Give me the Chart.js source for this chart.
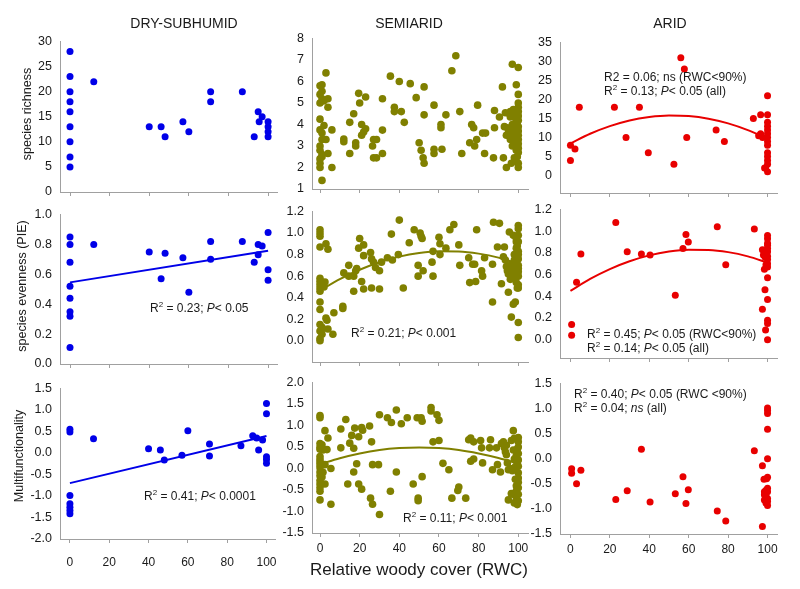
<!DOCTYPE html>
<html>
<head>
<meta charset="utf-8">
<script src="https://cdn.jsdelivr.net/npm/chart.js@4.4.1/dist/chart.umd.min.js"></script>
<style>
  body { margin: 0; background: #fff; }
  #wrap { position: relative; width: 800px; height: 589px; overflow: hidden; font-family: "Liberation Sans", Arial, sans-serif; color: #1a1a1a; }
  #wrap canvas { position: absolute; }
  .note { position: absolute; white-space: nowrap; font-size: 12px; line-height: 14px; }
  .ttl { position: absolute; font-size: 14px; line-height: 16px; transform: translate(-50%, -50%); white-space: nowrap; }
  .ylab { position: absolute; font-size: 12.5px; line-height: 14px; transform: translate(-50%, -50%) rotate(-90deg); white-space: nowrap; }
  .xlab { position: absolute; font-size: 17px; line-height: 20px; transform: translate(-50%, -50%); white-space: nowrap; }
  sup { font-size: 8px; vertical-align: 5px; line-height: 0; }
</style>
</head>
<body>
<div id="wrap"></div>
<script>
// tick labels
const xTicks = [0, 20, 40, 60, 80, 100];
const dryRichTicks = [0, 5, 10, 15, 20, 25, 30];
const semiRichTicks = [1, 2, 3, 4, 5, 6, 7, 8];
const aridRichTicks = [0, 5, 10, 15, 20, 25, 30, 35];
const evenTicksDry = [0, 0.2, 0.4, 0.6, 0.8, 1.0];
const evenTicks = [0, 0.2, 0.4, 0.6, 0.8, 1.0, 1.2];
const dryMultiTicks = [-2, -1.5, -1, -0.5, 0, 0.5, 1, 1.5];
const semiMultiTicks = [-1.5, -1, -0.5, 0, 0.5, 1, 1.5, 2];
const aridMultiTicks = [-1.5, -1, -0.5, 0, 0.5, 1, 1.5];

// points [RWC, value]
const dryRichness = [[0,28],[0,23],[0,20],[0,18],[0,16],[0,13],[0,10],[0,7],[0,5],[12,22],[40,13],[46,13],[48,11],[57,14],[60,12],[71,20],[71,18],[87,20],[95,16],[97,15],[95.5,14],[93,11],[100,14],[100,13],[100,12],[100,11]];
const dryEvenness = [[0,0.85],[0,0.80],[0,0.68],[0,0.52],[0,0.44],[0,0.35],[0,0.32],[0,0.11],[12,0.80],[40,0.75],[46,0.57],[48,0.74],[57,0.71],[60,0.48],[71,0.82],[71,0.70],[87,0.82],[93,0.68],[95,0.73],[95,0.80],[97,0.79],[100,0.88],[100,0.63],[100,0.56]];
const dryMulti = [[0,0.55],[0,0.49],[0,-0.99],[0,-1.18],[0,-1.26],[0,-1.34],[0,-1.41],[12,0.33],[40,0.10],[46,0.07],[48,-0.16],[57,-0.05],[60,0.52],[71,0.21],[71,-0.07],[87,0.17],[93,0.40],[95,0.35],[96,0.07],[98,0.30],[100,1.15],[100,0.91],[100,-0.09],[100,-0.15],[100,-0.24]];

const semiRichness = [[1,1.4],[0,2.0],[0,2.2],[0,2.4],[1,2.6],[0,3.0],[1,3.3],[1,3.6],[0,3.75],[0,4.25],[0,5.0],[1,5.2],[0,5.4],[1,5.55],[0,5.8],[1,5.85],[2,3.95],[2,5.1],[1,2.5],[0,2.8],
  [3,6.4],[4,5.2],[4,4.8],[3,3.3],[4,2.65],[6,2.0],[6,3.75],
  [12,3.32],[12,3.2],[15,4.1],[15,2.65],[17,4.5],[18,3.15],[18,3.0],[19.5,5.45],[20,5.0],[21,4.0],[21,3.5],[22,3.65],[23,3.8],[23,5.28],
  [26.5,3.0],[27,3.3],[28.5,3.3],[27,2.45],[28.5,2.45],[31.5,3.74],[31.5,5.2],[31.5,2.65],
  [35.5,6.25],[37.5,4.8],[37.5,4.6],[40,6.0],[41,4.6],[42.5,4.1],[45.5,5.9],[48.5,5.25],[50,3.15],[51,2.8],[52,2.45],[52.5,2.2],[52.5,5.75],[52.5,4.45],
  [57.5,4.9],[57.5,2.85],[57.5,2.65],[61,4.0],[61,3.85],[61.5,2.85],[63.5,4.45],[66.5,6.5],[68.5,7.2],[70.5,4.6],[71.5,2.65],
  [75.5,3.15],[76.5,4.0],[77.5,3.85],[78,3.0],[79,3.3],[79.5,4.9],[82,3.6],[83.5,3.6],[83,2.65],
  [87.5,2.45],[88,3.85],[88,4.65],[90.5,4.35],[92,5.75],[92.5,2.45],[93.5,4.55],[94,2.0],[94.5,3.85],[95,3.6],[96,4.35],[96.5,2.2],[97,6.8],[97.5,4.7],[98,2.45],[99,5.85],[99.5,3.2],[100,2.2],[100,6.65],[100,2.0],
  [95,3.5],[96,3.3],[96.5,3.7],[97,4.0],[97.5,3.4],[98,3.9],[98.5,4.3],[99,4.5],[99,3.6],[99.5,4.1],[100,4.6],[100,4.4],[100,4.2],[100,3.9],[100,3.7],[100,3.5],[100,3.3],[100,3.1],[100,2.9],[100,2.7],[100,5.4],[100,5.0],[100,4.8],[98,3.2],[97,3.0],[99,2.8],[96,4.6],[98.5,2.3],[99.5,2.5],[95.5,4.5],[93,3.9],[94,3.5]];
const semiEvenness = [[0,1.03],[0,1.0],[0,0.97],[0,0.87],[0,0.58],[0,0.55],[1,0.52],[0,0.49],[0,0.46],[0,0.36],[0,0.29],[0,0.15],[1,0.125],[0,0.09],[1,0.06],[0,0.02],[0,0.0],[2.5,0.545],[3,0.90],[3.5,0.19],[4,0.85],[4,0.11],[6.5,0.06],[7,0.26],[3,0.21],[1,0.11],[2,0.5],[0,0.52],
  [11.5,0.30],[11.5,0.32],[12,0.63],[14.5,0.70],[14.5,0.60],[17,0.46],[17,0.6],[18,0.65],[18.5,0.67],[19.5,0.86],[20,0.95],[22,0.89],[21,0.55],[22,0.79],[22,0.48],
  [25.5,0.82],[26,0.76],[27,0.73],[28,0.68],[26,0.49],[30,0.48],[30,0.65],[31,0.73],[34,0.77],[36.5,0.75],[36,0.99],[39.5,0.80],[40,1.12],[42,0.49],[45,0.91],[47.5,1.03],[49.5,0.70],[50.5,1.0],[51,0.97],[51.5,0.95],[49.5,0.60],[52,0.65],
  [56.5,0.73],[57,0.83],[57,0.60],[60,0.96],[60.5,0.90],[60.5,0.80],[63.5,0.86],[65.5,1.03],[67.5,1.08],[70,0.89],[70.5,0.70],[75,0.77],[75.5,0.54],[77,0.71],[78,0.71],[78.5,0.55],[79,1.03],[81.5,0.65],[82,0.60],[83,0.77],
  [87,0.71],[87,0.36],[87.5,1.10],[89.5,0.87],[90.5,1.09],[91.5,0.53],[92.5,0.78],[93,0.87],[93.5,0.75],[94,0.69],[94.5,0.65],[95,0.62],[95,0.45],[95.5,1.01],[96,0.57],[96.5,0.22],[96.5,0.71],[97.5,0.34],[97.5,0.98],[98,0.80],[98.5,0.57],[98.5,0.36],[99,0.86],[99,0.54],[99.5,0.49],
  [100,0.17],[100,0.03],[100,1.07],[100,1.04],[100,0.98],[100,0.92],[100,0.83],[100,0.76],[100,0.70],[100,0.64],[100,0.60],[100,0.52],[100,0.49],[99,0.70],[99,0.64],[99.5,0.62],[98.5,0.63],[97.5,0.66],[98,0.68],[99,0.74],[99.5,0.88],[99,0.92],[99,0.95],[96,0.62],[97,0.60],[98,0.75],[100,0.80],[100,0.67]];
const semiMulti = [[0,1.23],[0,1.18],[0,0.58],[0,0.50],[0,0.45],[0,0.28],[0,0.21],[0,0.09],[0,0.02],[0,-0.08],[0,-0.17],[0,-0.28],[0,-0.36],[0,-0.45],[0,-0.53],[0,-0.73],[1.5,0.43],[1.5,-0.09],[2.5,0.09],[2.5,-0.36],[2.5,0.88],[3.5,0.44],[4,0.71],[5.5,0.0],[5.5,-0.83],[0,0.15],[1,-0.2],[1,0.55],
  [10.5,0.48],[10.5,0.92],[13,1.14],[14,-0.36],[15,0.59],[16,0.77],[17,0.47],[17,-0.08],[17.5,0.94],[18.5,0.11],[19.5,0.74],[19.5,-0.36],[21,0.95],[21,-0.48],[21.5,0.89],[25,0.99],[25.5,-0.69],[26,0.62],[26.5,0.09],[26.5,-0.83],[29.5,0.09],[30,-1.07],[30,1.25],
  [34,1.18],[35.5,-0.53],[36,1.07],[38.5,-0.08],[38.5,1.36],[41,1.04],[44,1.18],[47,-0.36],[49,1.18],[49.5,-0.69],[49.5,-0.75],[51,1.18],[51.5,1.10],[51.5,-0.19],[56,1.42],[56,1.34],[57,0.62],[59,1.25],[60,1.12],[60,0.65],[62,0.12],[65,-0.03],[66.5,-0.69],[69.5,-0.51],[70,-0.43],[73.5,-0.69],
  [75,0.67],[76,0.71],[76,0.17],[77.5,0.62],[77.5,0.22],[81,0.65],[81.5,0.48],[82,0.13],[85.5,0.48],[86,0.67],[87,-0.03],[89,0.48],[89.5,0.09],[91,-0.08],[91.5,0.58],[92.5,0.62],[93,0.48],[93.5,0.39],[94,0.54],[94,0.32],[94.5,0.13],[95,-0.03],[95,-0.73],[96,0.00],[96.5,0.65],[96.5,-0.58],[97.5,0.88],[97.5,0.43],[98,0.22],[98.5,0.04],[98.5,-0.25],[99,-0.40],[99,-0.52],[99.5,-0.84],
  [100,0.62],[100,0.50],[100,0.35],[100,0.20],[100,0.05],[100,-0.10],[100,-0.22],[100,-0.32],[100,-0.60],[100,-0.75],[100,0.72],[99,0.30],[98,0.70],[99.5,0.12],[97,-0.05],[100,-0.45],[99,-0.68],[98,-0.80],[97,-0.60],[99.5,0.45]];

const aridRichness = [[0,8],[0,4],[2.3,7],[4.5,18],[22.3,18],[28.2,10],[35,18],[39.5,6],[52.5,3],[56,31],[57.8,28],[59,10],[73.9,12],[78.1,9],[92.8,15],[96.5,16],[96.5,11],[97.5,10],[95.5,10.5],[100,21],[100,16],[100,14],[100,13],[100,12],[100,11],[100,10],[100,9],[100,8],[100,6],[100,5],[100,4],[100,3],[99,2],[100,1],[98.5,2]];
const aridEvenness = [[0.6,0.14],[0.6,0.04],[3.1,0.53],[5.3,0.79],[23,1.08],[28.8,0.81],[36,0.79],[40.4,0.78],[53.2,0.41],[57.1,0.84],[58.6,0.97],[59.8,0.90],[74.5,1.04],[78.8,0.69],[93.3,1.02],[97.4,0.83],[97.9,0.78],[98.4,0.65],[99,0.09],[97.4,0.28],[98.7,0.46],[100,0.57],[100,0.37],[100,0.18],[100,0.15],[100,0.0],[100,0.96],[100,0.93],[100,0.89],[100,0.87],[100,0.84],[100,0.81],[100,0.77],[100,0.74],[100,0.70],[100,0.67],[99.2,0.69],[98.8,0.76]];
const aridMulti = [[0.6,-0.20],[0.6,-0.29],[3.1,-0.50],[5.3,-0.23],[23,-0.81],[28.8,-0.64],[36,0.19],[40.4,-0.86],[53.2,-0.70],[57.1,-0.36],[59.8,-0.62],[58.6,-0.89],[74.5,-1.04],[78.8,-1.24],[93.3,0.16],[97.4,-0.14],[97.4,-1.35],[98.2,-0.41],[100,1.01],[100,0.96],[100,0.90],[100,0.59],[100,0.0],[100,-0.37],[99.5,-0.40],[100,-0.59],[100,-0.66],[98.4,-0.66],[99.2,-0.75],[100,-0.79],[100,-0.85],[100,-0.93],[98.4,-0.82],[99.2,-0.88],[99.2,-0.63],[98.4,-0.72]];

// fitted curves
const dryEvenFit = [[0,0.546],[100,0.757]];
const dryMultiFit = [[0,-0.70],[100,0.395]];
const semiEvenFit = [[0,0.466],[10,0.572],[20,0.659],[30,0.729],[40,0.781],[50,0.815],[60,0.831],[70,0.829],[80,0.809],[90,0.772],[100,0.716]];
const semiMultiFit = [[0,0.10],[10,0.24],[20,0.35],[30,0.43],[40,0.475],[50,0.49],[60,0.475],[70,0.43],[80,0.35],[90,0.245],[100,0.11]];
const aridRichFit = [[0,8.45],[10,11.0],[20,13.0],[30,14.5],[40,15.4],[50,15.8],[60,15.65],[70,14.96],[80,13.73],[90,11.96],[98,10.16]];
const aridEvenFit = [[0,0.45],[10,0.56],[20,0.651],[30,0.723],[40,0.777],[50,0.812],[60,0.829],[70,0.827],[80,0.807],[90,0.768],[100,0.71]];

const BLUE = '#0000e8', OLIVE = '#808000', RED = '#e80000';
const AXIS = '#a0a0a0', TXT = '#1a1a1a', FONT = '"Liberation Sans", Arial, sans-serif';
const PAD = { l: 48, t: 10, r: 12, b: 34 };

const panels = [
  { pts: dryRichness, color: BLUE, area: [60, 36, 277, 192], x: [-5.05, 104.5], y: [0, 30], yTicks: dryRichTicks, dec: 0 },
  { pts: semiRichness, color: OLIVE, r: 3.8, area: [312, 33, 528, 189], x: [-4.04, 104.9], y: [1, 8], yTicks: semiRichTicks, dec: 0 },
  { pts: aridRichness, color: RED, fit: aridRichFit, area: [560, 37, 777, 193], x: [-5.3, 104.8], y: [-4.57, 35], yTicks: aridRichTicks, dec: 0 },
  { pts: dryEvenness, color: BLUE, fit: dryEvenFit, area: [60, 209, 277, 364], x: [-5.05, 104.5], y: [0, 1], yTicks: evenTicksDry, dec: 1 },
  { pts: semiEvenness, color: OLIVE, r: 3.8, fit: semiEvenFit, area: [312, 206, 528, 362], x: [-4.04, 104.9], y: [-0.197, 1.2], yTicks: evenTicks, dec: 1 },
  { pts: aridEvenness, color: RED, fit: aridEvenFit, area: [560, 204, 777, 358], x: [-5.3, 104.8], y: [-0.169, 1.2], yTicks: evenTicks, dec: 1 },
  { pts: dryMulti, color: BLUE, fit: dryMultiFit, area: [60, 383, 277, 539], x: [-5.05, 104.5], y: [-2, 1.5], yTicks: dryMultiTicks, dec: 1, xLabels: true, xPad: 12 },
  { pts: semiMulti, color: OLIVE, r: 3.8, fit: semiMultiFit, area: [312, 377, 528, 533], x: [-4.04, 104.9], y: [-1.5, 2], yTicks: semiMultiTicks, dec: 1, xLabels: true, xPad: 4 },
  { pts: aridMulti, color: RED, area: [560, 378, 777, 534], x: [-5.3, 104.8], y: [-1.5, 1.5], yTicks: aridMultiTicks, dec: 1, xLabels: true, xPad: 4 },
];

const wrap = document.getElementById('wrap');

function drawPanel(p) {
  const [l, t, r, b] = p.area;
  const W = r - l + PAD.l + PAD.r, H = b - t + PAD.t + PAD.b;
  const c = document.createElement('canvas');
  c.width = W; c.height = H;
  Object.assign(c.style, { left: (l - PAD.l) + 'px', top: (t - PAD.t) + 'px', width: W + 'px', height: H + 'px' });
  wrap.appendChild(c);

  const datasets = [];
  if (p.fit) datasets.push({
    type: 'line', data: p.fit.map(([x, y]) => ({ x, y })), borderColor: p.color, borderWidth: 2,
    pointRadius: 0, fill: false, cubicInterpolationMode: 'monotone', clip: false,
  });
  datasets.push({
    data: p.pts.map(([x, y]) => ({ x, y })), backgroundColor: p.color, borderWidth: 0,
    pointRadius: p.r || 3.5, clip: false,
  });

  new Chart(c, {
    type: 'scatter',
    data: { datasets },
    options: {
      responsive: false, animation: false, events: [],
      layout: { padding: { left: 0, top: PAD.t, right: PAD.r, bottom: 0 } },
      plugins: { legend: { display: false }, tooltip: { enabled: false } },
      scales: {
        x: {
          type: 'linear', min: p.x[0], max: p.x[1],
          afterBuildTicks: s => { s.ticks = xTicks.map(v => ({ value: v })); },
          afterFit: s => { s.height = PAD.b; },
          grid: { drawOnChartArea: false, drawTicks: true, tickLength: 4, color: AXIS },
          border: { color: AXIS },
          ticks: { display: !!p.xLabels, padding: p.xPad || 4, color: TXT, maxRotation: 0, font: { family: FONT, size: 12 } },
        },
        y: {
          type: 'linear', min: p.y[0], max: p.y[1],
          afterBuildTicks: s => { s.ticks = p.yTicks.map(v => ({ value: v })); },
          afterFit: s => { s.width = PAD.l; },
          grid: { drawOnChartArea: false, drawTicks: false },
          border: { color: AXIS },
          ticks: { padding: 8, color: TXT, font: { family: FONT, size: 12.5 }, callback: v => (+v).toFixed(p.dec) },
        },
      },
    },
  });
}

panels.forEach(drawPanel);

function addText(cls, x, y, html) {
  const d = document.createElement('div');
  d.className = cls;
  d.style.left = x + 'px';
  d.style.top = y + 'px';
  d.innerHTML = html;
  wrap.appendChild(d);
}

addText('ttl', 184, 23, 'DRY-SUBHUMID');
addText('ttl', 409, 23, 'SEMIARID');
addText('ttl', 670, 23, 'ARID');
addText('ylab', 27, 114, 'species richness');
addText('ylab', 22, 286, 'species evenness (PIE)');
addText('ylab', 19, 456, 'Multifunctionality');
addText('xlab', 419, 570, 'Relative woody cover (RWC)');

// statistics notes (left edge, top)
addText('note', 150, 301, 'R<sup>2</sup> = 0.23; <i>P</i>&lt; 0.05');
addText('note', 144, 489, 'R<sup>2</sup> = 0.41; <i>P</i>&lt; 0.0001');
addText('note', 351, 326, 'R<sup>2</sup> = 0.21; <i>P</i>&lt; 0.001');
addText('note', 403, 511, 'R<sup>2</sup> = 0.11; <i>P</i>&lt; 0.001');
addText('note', 604, 70, 'R2 = 0.06; ns (RWC&lt;90%)<br>R<sup>2</sup> = 0.13; <i>P</i>&lt; 0.05 (all)');
addText('note', 587, 327, 'R<sup>2</sup> = 0.45; <i>P</i>&lt; 0.05 (RWC&lt;90%)<br>R<sup>2</sup> = 0.14; <i>P</i>&lt; 0.05 (all)');
addText('note', 574, 387, 'R<sup>2</sup> = 0.40; <i>P</i>&lt; 0.05 (RWC &lt;90%)<br>R<sup>2</sup> = 0.04; <i>ns</i> (all)');
</script>
</body>
</html>
